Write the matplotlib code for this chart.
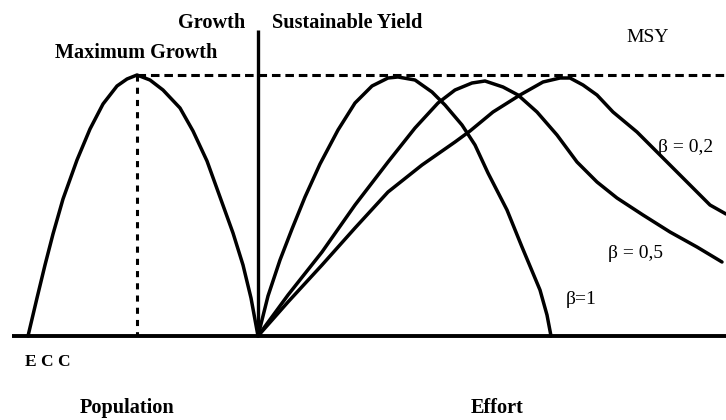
import matplotlib
matplotlib.use("Agg")
import matplotlib.pyplot as plt

# ---- data (effort/population offset from the origin, yield/growth above the baseline) ----
growth_x = [-230, -221, -213, -205, -195, -181, -168, -155, -141, -131, -121,
            -108, -95, -78, -65, -51, -38, -25, -15, -7, 0]
growth_y = [0, 38, 71, 102, 137, 176, 207, 232, 250, 257, 261,
            256, 246, 228, 205, 175, 139, 103, 71, 38, 0]

beta1_x = [0, 10, 22, 34, 47, 62, 80, 97, 114, 130, 140, 157, 174, 187, 204,
           217, 230, 249, 264, 282, 289, 293]
beta1_y = [0, 40, 76, 107, 139, 172, 206, 233, 250, 258, 259, 256, 244, 231, 211,
           191, 163, 126, 89, 46, 21, 0]

beta05_x = [0, 30, 64, 97, 130, 157, 180, 197, 214, 227, 245, 260, 279, 299, 319,
            339, 359, 385, 412, 439, 464]
beta05_y = [0, 41, 84, 131, 174, 208, 233, 246, 253, 255, 249, 241, 224, 201, 174,
            154, 138, 121, 104, 89, 74]

beta02_x = [0, 30, 64, 97, 130, 164, 197, 212, 235, 262, 285, 302, 312, 325, 339,
            355, 379, 399, 419, 439, 452, 468]
beta02_y = [0, 34, 71, 108, 144, 171, 194, 205, 224, 241, 254, 258, 258, 251, 241,
            224, 204, 184, 164, 144, 131, 122]

max_growth_x = -121
msy_level = 261
beta_labels = ["β = 0,2", "β = 0,5", "β=1"]

# ---- figure ----
fig = plt.figure(figsize=(7.26, 4.2), dpi=100)
ax = fig.add_axes([0, 0, 1, 1])
ax.set_xlim(-258, 468)
ax.set_ylim(-84, 336)
ax.axis("off")

serif = ["Liberation Serif", "DejaVu Serif"]
lw = 2.5
kw = dict(color="black", lw=lw, solid_joinstyle="round", solid_capstyle="round")

ax.plot(growth_x, growth_y, **kw)
ax.plot(beta1_x, beta1_y, **kw)
ax.plot(beta05_x, beta05_y, **kw)
ax.plot(beta02_x, beta02_y, **kw)

# axes lines
ax.plot([-246, 468], [0, 0], color="black", lw=2.8, solid_capstyle="butt")
ax.plot([0, 0], [0, 306], color="black", lw=2.4, solid_capstyle="butt")

# dashed guides
ax.plot([max_growth_x, 468], [msy_level, msy_level], color="black", lw=2.2,
        dashes=(2.8, 1.6))
ax.plot([max_growth_x, max_growth_x], [msy_level, 0], color="black", lw=2.2,
        dashes=(2.0, 2.0))

# ---- texts ----
fs = 14.6
ax.text(-46, 313, "Growth", family=serif, fontsize=fs, fontweight="bold", ha="center", va="center")
ax.text(14, 313, "Sustainable Yield", family=serif, fontsize=fs, fontweight="bold", ha="left", va="center")
ax.text(-203, 283, "Maximum Growth", family=serif, fontsize=fs, fontweight="bold", ha="left", va="center")
ax.text(368, 298, "MSY", family=serif, fontsize=14, ha="left", va="center")
ax.text(400, 189, beta_labels[0], family=serif, fontsize=14, ha="left", va="center")
ax.text(350, 83, beta_labels[1], family=serif, fontsize=14, ha="left", va="center")
ax.text(308, 36, beta_labels[2], family=serif, fontsize=14, ha="left", va="center")
ax.text(-233, -26, "E C C", family=serif, fontsize=12.5, fontweight="bold", ha="left", va="center")
ax.text(-178, -72, "Population", family=serif, fontsize=fs, fontweight="bold", ha="left", va="center")
ax.text(213, -72, "Effort", family=serif, fontsize=fs, fontweight="bold", ha="left", va="center")

fig.savefig("out.png", dpi=100, facecolor="white")
